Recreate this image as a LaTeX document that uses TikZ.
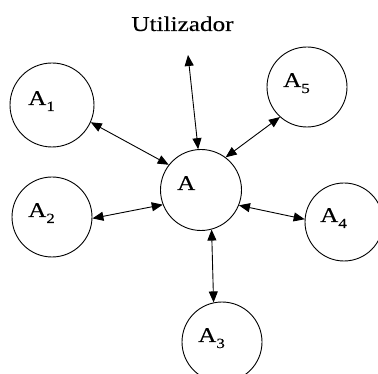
\documentclass[tikz,border=0pt]{standalone}
\usepackage{fontspec}
\setmainfont[FakeStretch=1.2,FakeBold=0.3]{Liberation Serif}
\usetikzlibrary{arrows.meta}
\newcommand{\lowidx}[1]{\raisebox{-6pt}{\fontsize{14}{14}\selectfont #1}}
\begin{document}
\begin{tikzpicture}[x=1pt, y=-1pt,
    agent/.style={circle, draw, line width=0.9pt, minimum size=80pt, inner sep=0pt},
    lbl/.style={anchor=base west, inner sep=0pt, font=\fontsize{21}{24}\selectfont, xshift=-24pt},
    link/.style={line width=0.9pt,
      {Triangle[length=11pt,width=9pt]}-{Triangle[length=11pt,width=9pt]}}]
  \clip (0,0) rectangle (378,374);
  \fill[white] (0,0) rectangle (378,374);

  % agents
  \node[agent, minimum size=81pt] (a)  at (201,190) {};
  \node[agent, minimum size=84pt] (a1) at (52,105) {};
  \node[agent] (a2) at (52,217) {};
  \node[agent] (a3) at (222,342) {};
  \node[agent, minimum size=78pt] (a4) at (344,222) {};
  \node[agent] (a5) at (307,87) {};

  % names
  \node[lbl] (ta)  at (a)  {A};
  \node[lbl] (ta1) at (a1) {A\lowidx{1}};
  \node[lbl] (ta2) at (a2) {A\lowidx{2}};
  \node[lbl] (ta3) at (a3) {A\lowidx{3}};
  \node[lbl] (ta4) at (a4) {A\lowidx{4}};
  \node[lbl] (ta5) at (a5) {A\lowidx{5}};

  % user
  \node[anchor=base, inner sep=0pt, font=\fontsize{21}{24}\selectfont] (user) at (182.5,31) {Utilizador};
  \coordinate (uend) at (188,55);

  % links
  \draw[link] (uend) -- (a.94.5);
  \draw[link] (a1.-24) -- (a.142.8);
  \draw[link] (a5.228.7) -- (a.53.4);
  \draw[link] (a2.-2.8) -- (a.201);
  \draw[link] (a4.176) -- (a.-22);
  \draw[link] (a3.102.7) -- (a.-75.3);
\end{tikzpicture}
\end{document}
